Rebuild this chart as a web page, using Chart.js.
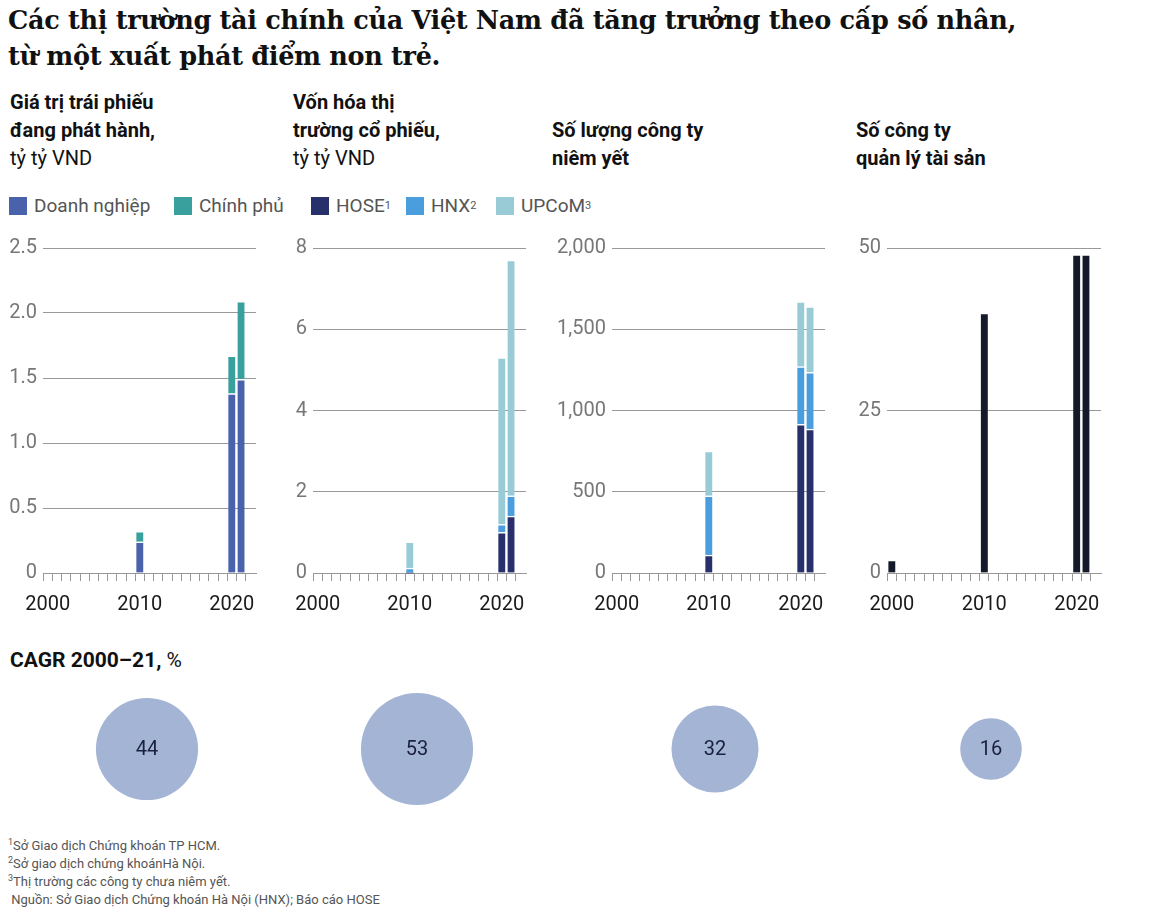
<!DOCTYPE html>
<html><head><meta charset="utf-8">
<script src="https://cdn.jsdelivr.net/npm/chart.js@4"></script>
<style>
body{margin:0;width:1160px;height:920px;background:#fff;position:relative;font-family:Roboto,"Liberation Sans",sans-serif;color:#111;overflow:hidden}
.abs{position:absolute}
h1{position:absolute;left:8px;top:2px;margin:0;font-family:"DejaVu Serif",serif;font-weight:bold;font-size:25.5px;line-height:36px;color:#111;letter-spacing:-0.3px}
.hd{position:absolute;font-size:20px;line-height:28px}
.hd b{font-weight:bold}
.lg{position:absolute;top:194px;font-size:19px;color:#555;display:flex;align-items:center}
.sq{display:inline-block;width:18px;height:18px;margin-right:7px}
sup{font-size:11px;line-height:0;vertical-align:7px}
.fn{position:absolute;left:8px;font-size:13px;color:#555;line-height:18px}
.fn sup{font-size:9px;vertical-align:5px}
canvas{position:absolute}
</style></head><body>
<h1>Các thị trường tài chính của Việt Nam đã tăng trưởng theo cấp số nhân,<br>từ một xuất phát điểm non trẻ.</h1>
<div class="hd" style="left:10px;top:88px"><b>Giá trị trái phiếu<br>đang phát hành,</b><br>tỷ tỷ VND</div>
<div class="hd" style="left:293px;top:88px"><b>Vốn hóa thị<br>trường cổ phiếu,</b><br>tỷ tỷ VND</div>
<div class="hd" style="left:552px;top:116px"><b>Số lượng công ty<br>niêm yết</b></div>
<div class="hd" style="left:856px;top:116px"><b>Số công ty<br>quản lý tài sản</b></div>
<div class="lg" style="left:9px"><span class="sq" style="background:#4a62ab"></span>Doanh nghiệp</div>
<div class="lg" style="left:174px"><span class="sq" style="background:#3aa09d"></span>Chính phủ</div>
<div class="lg" style="left:311px"><span class="sq" style="background:#27306b"></span>HOSE<sup>1</sup></div>
<div class="lg" style="left:406px"><span class="sq" style="background:#4a9ede"></span>HNX<sup>2</sup></div>
<div class="lg" style="left:496px"><span class="sq" style="background:#98cbd6"></span>UPCoM<sup>3</sup></div>
<div class="abs" style="left:10px;top:648px;font-size:21px"><b>CAGR 2000–21,</b> %</div>
<div class="fn" style="top:837px"><sup>1</sup>Sở Giao dịch Chứng khoán TP HCM.<br><sup>2</sup>Sở giao dịch chứng khoánHà Nội.<br><sup>3</sup>Thị trường các công ty chưa niêm yết.<br>&nbsp;Nguồn: Sở Giao dịch Chứng khoán Hà Nội (HNX); Báo cáo HOSE</div>

<canvas id="c1" style="left:0;top:230px" width="265" height="390"></canvas>
<canvas id="c2" style="left:270px;top:230px" width="265" height="390"></canvas>
<canvas id="c3" style="left:540px;top:230px" width="290" height="390"></canvas>
<canvas id="c4" style="left:840px;top:230px" width="270" height="390"></canvas>
<canvas id="b1" style="left:77px;top:679px" width="140" height="140"></canvas>
<canvas id="b2" style="left:347px;top:679px" width="140" height="140"></canvas>
<canvas id="b3" style="left:645px;top:679px" width="140" height="140"></canvas>
<canvas id="b4" style="left:921px;top:679px" width="140" height="140"></canvas>
<script>
const years=[2000,2010,2020,2021];
const bondCorp=[null,0.24,1.38,1.49];
const bondGov=[null,0.08,0.29,0.60];
const capHOSE=[null,0.0,1.0,1.4];
const capHNX=[null,0.12,0.2,0.5];
const capUPCoM=[null,0.65,4.1,5.8];
const listHOSE=[null,110,915,885];
const listHNX=[null,365,355,350];
const listUPCoM=[null,275,400,405];
const amc=[2,40,49,49];
const cagr=[44,53,32,16];
const yTicks1=[0,0.5,1.0,1.5,2.0,2.5], yTicks2=[0,2,4,6,8], yTicks3=[0,500,1000,1500,2000], yTicks4=[0,25,50];
const xLabelYears=[2000,2010,2020];

const F="Roboto, 'Liberation Sans', sans-serif";
function pts(arr){return years.map((y,i)=>({x:y,y:arr[i]})).filter(p=>p.y!==null);}
function ds(label,arr,color){return {label,data:pts(arr),backgroundColor:color,borderColor:'#fff',borderWidth:{top:1.5},borderSkipped:false,barThickness:7,clip:false,stack:'s'};}
function make(id,datasets,ticks,axisW,fmt){
  const max=ticks[ticks.length-1];
  new Chart(document.getElementById(id),{type:'bar',data:{datasets},
    options:{responsive:false,animation:false,layout:{padding:{top:18,right:id==='c3'?5:9,left:0,bottom:0}},
      plugins:{legend:{display:false},tooltip:{enabled:false}},
      scales:{
        x:{type:'linear',min:2000,max:2022.1,stacked:true,
          afterBuildTicks:s=>{s.ticks=[];for(let y=2000;y<=2021;y++)s.ticks.push({value:y});},
          afterFit:s=>{s.height=47;},
          ticks:{autoSkip:false,maxRotation:0,padding:12,color:'#1a1a1a',font:{family:F,size:20},callback:v=>xLabelYears.includes(v)?String(v):''},
          grid:{drawOnChartArea:false,drawTicks:true,tickLength:8,color:'#999'},
          border:{display:true,color:'#999'}},
        y:{min:0,max,stacked:true,
          afterBuildTicks:s=>{s.ticks=ticks.map(v=>({value:v}));},
          afterFit:s=>{s.width=axisW;},
          ticks:{padding:6,color:'#777',font:{family:F,size:20},callback:fmt},
          grid:{color:'#999',drawTicks:false,lineWidth:1},
          border:{display:false}}}}});
}
make('c1',[ds('Doanh nghiệp',bondCorp,'#4a62ab'),ds('Chính phủ',bondGov,'#3aa09d')],yTicks1,43,v=>v===0?'0':v.toFixed(1));
make('c2',[ds('HOSE',capHOSE,'#27306b'),ds('HNX',capHNX,'#4a9ede'),ds('UPCoM',capUPCoM,'#98cbd6')],yTicks2,43,v=>String(v));
make('c3',[ds('HOSE',listHOSE,'#27306b'),ds('HNX',listHNX,'#4a9ede'),ds('UPCoM',listUPCoM,'#98cbd6')],yTicks3,72,v=>v.toLocaleString('en-US'));
make('c4',[ds('AMC',amc,'#151a2b')],yTicks4,47,v=>String(v));

const lblPlugin={id:'lbl',afterDatasetsDraw(c){const ctx=c.ctx;const m=c.getDatasetMeta(0).data[0];const v=c.data.datasets[0].data[0].v;
  ctx.save();ctx.fillStyle='#1a2040';ctx.font='20px '+F;ctx.textAlign='center';ctx.textBaseline='middle';ctx.fillText(String(v),m.x,m.y+1);ctx.restore();}};
cagr.forEach((v,i)=>{
  new Chart(document.getElementById('b'+(i+1)),{type:'bubble',plugins:[lblPlugin],
    data:{datasets:[{data:[{x:0,y:0,v}],backgroundColor:'#a3b4d4',borderWidth:0,clip:false,radius:ctx=>Math.sqrt(ctx.raw.v)*7.7}]},
    options:{responsive:false,animation:false,layout:{padding:0},plugins:{legend:{display:false},tooltip:{enabled:false}},
      scales:{x:{display:false,min:-1,max:1},y:{display:false,min:-1,max:1}}}});
});
</script>
</body></html>
